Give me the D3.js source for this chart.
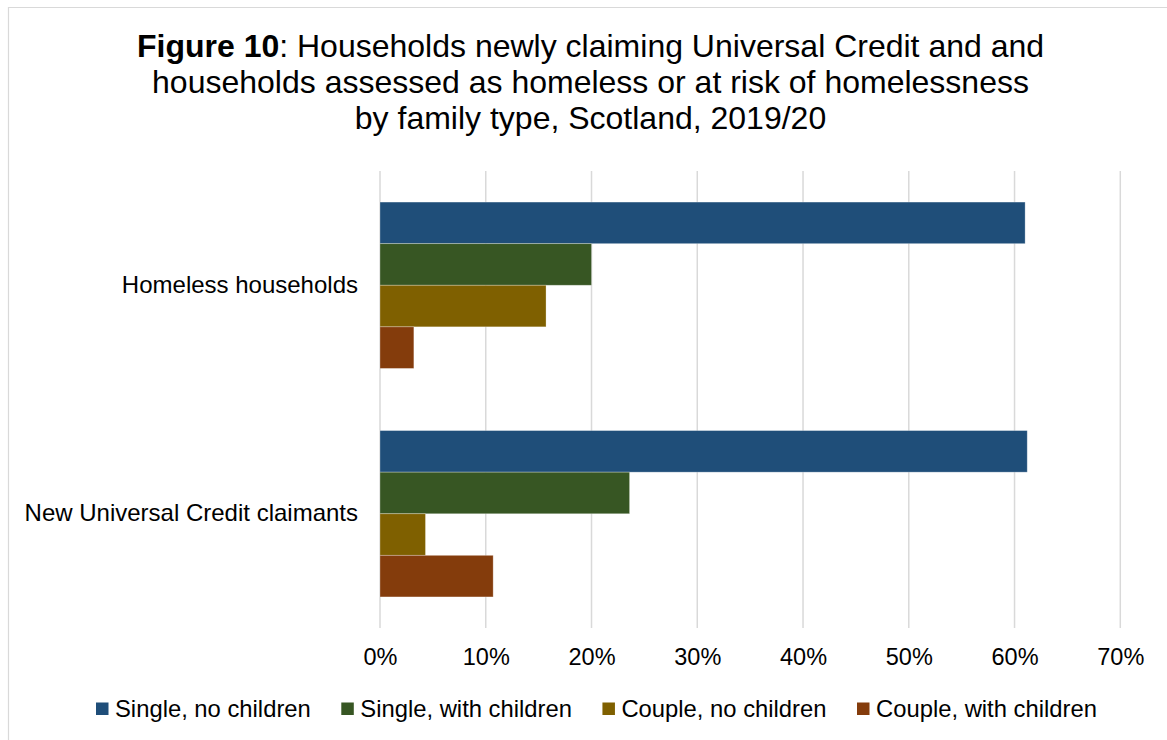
<!DOCTYPE html>
<html>
<head>
<meta charset="utf-8">
<script src="https://cdn.jsdelivr.net/npm/d3@7"></script>
<style>
  html, body { margin: 0; padding: 0; background: #ffffff; }
  svg { display: block; font-family: "Liberation Sans", Arial, sans-serif; }
</style>
</head>
<body>
<svg id="chart" width="1167" height="740"></svg>
<script>
// Family types (series) and claimant groups (categories)
const groups = ["Homeless households", "New Universal Credit claimants"];
const seriesNames = ["Single, no children", "Single, with children", "Couple, no children", "Couple, with children"];
const seriesColors = ["#1f4e79", "#375623", "#7f6000", "#843c0c"];

// Share of households (%) by family type, per group
const singleNoChildren   = [61.0, 61.2];
const singleWithChildren = [20.0, 23.6];
const coupleNoChildren   = [15.7, 4.3];
const coupleWithChildren = [3.2, 10.7];

const tickValues = [0, 10, 20, 30, 40, 50, 60, 70];

const seriesValues = [singleNoChildren, singleWithChildren, coupleNoChildren, coupleWithChildren];

const svg = d3.select("#chart");

// Outer frame
svg.append("path")
  .attr("d", "M8.5,740 V7.5 H1167")
  .attr("fill", "none")
  .attr("stroke", "#d9d9d9")
  .attr("stroke-width", 1.2);

// Title
const title = svg.append("text")
  .attr("text-anchor", "middle")
  .attr("font-size", 32)
  .attr("fill", "#000");
const titleX = 590.5;
const l1 = title.append("tspan").attr("x", titleX).attr("y", 56.5);
l1.append("tspan").attr("font-weight", "bold").text("Figure 10");
l1.append("tspan").text(": Households newly claiming Universal Credit and and");
title.append("tspan").attr("x", titleX).attr("y", 92.5)
  .text("households assessed as homeless or at risk of homelessness");
title.append("tspan").attr("x", titleX).attr("y", 128.5)
  .text("by family type, Scotland, 2019/20");

// Plot area
const plot = { left: 380, right: 1120.3, top: 171, bottom: 628 };

const x = d3.scaleLinear().domain([0, 70]).range([plot.left, plot.right]);
const y = d3.scaleBand().domain(groups).range([plot.top, plot.bottom])
  .paddingInner(0.272).paddingOuter(0.136);
const ySeries = d3.scaleBand().domain(seriesNames).range([0, y.bandwidth()]);

// Vertical gridlines
svg.append("g")
  .selectAll("line")
  .data(tickValues)
  .join("line")
  .attr("x1", d => x(d)).attr("x2", d => x(d))
  .attr("y1", plot.top).attr("y2", plot.bottom)
  .attr("stroke", "#d9d9d9")
  .attr("stroke-width", 1.5);

// Bars
const barG = svg.append("g");
groups.forEach((g, gi) => {
  seriesNames.forEach((s, si) => {
    barG.append("rect")
      .datum(seriesValues[si][gi])
      .attr("x", x(0))
      .attr("y", y(g) + ySeries(s))
      .attr("width", d => x(d) - x(0))
      .attr("height", ySeries.bandwidth())
      .attr("fill", seriesColors[si])
      .attr("stroke", "rgba(255,255,255,0.35)")
      .attr("stroke-width", 0.8);
  });
});

// X axis tick labels
const xAxis = d3.axisBottom(x)
  .tickValues(tickValues)
  .tickFormat(d => d + "%")
  .tickSize(0)
  .tickPadding(0);
const xg = svg.append("g")
  .attr("transform", `translate(0, ${plot.bottom})`)
  .call(xAxis);
xg.select(".domain").remove();
xg.selectAll("text")
  .attr("font-family", "Liberation Sans, Arial, sans-serif")
  .attr("font-size", 23.5)
  .attr("fill", "#000")
  .attr("dy", null)
  .attr("y", 37);

// Y axis category labels
const yAxis = d3.axisLeft(y).tickSize(0).tickPadding(0);
const yg = svg.append("g")
  .attr("transform", "translate(358, 0)")
  .call(yAxis);
yg.select(".domain").remove();
yg.selectAll("text")
  .attr("font-family", "Liberation Sans, Arial, sans-serif")
  .attr("font-size", 24)
  .attr("fill", "#000")
  .attr("x", 0);

// Legend
const legend = svg.append("g");
let lx = 96;
seriesNames.forEach((s, i) => {
  legend.append("rect")
    .attr("x", lx).attr("y", 702.5)
    .attr("width", 12.5).attr("height", 12.5)
    .attr("fill", seriesColors[i]);
  const t = legend.append("text")
    .attr("x", lx + 19).attr("y", 716.7)
    .attr("font-size", 23.8)
    .attr("fill", "#000")
    .text(s);
  lx += 19 + t.node().getComputedTextLength() + 30.5;
});
</script>
</body>
</html>
